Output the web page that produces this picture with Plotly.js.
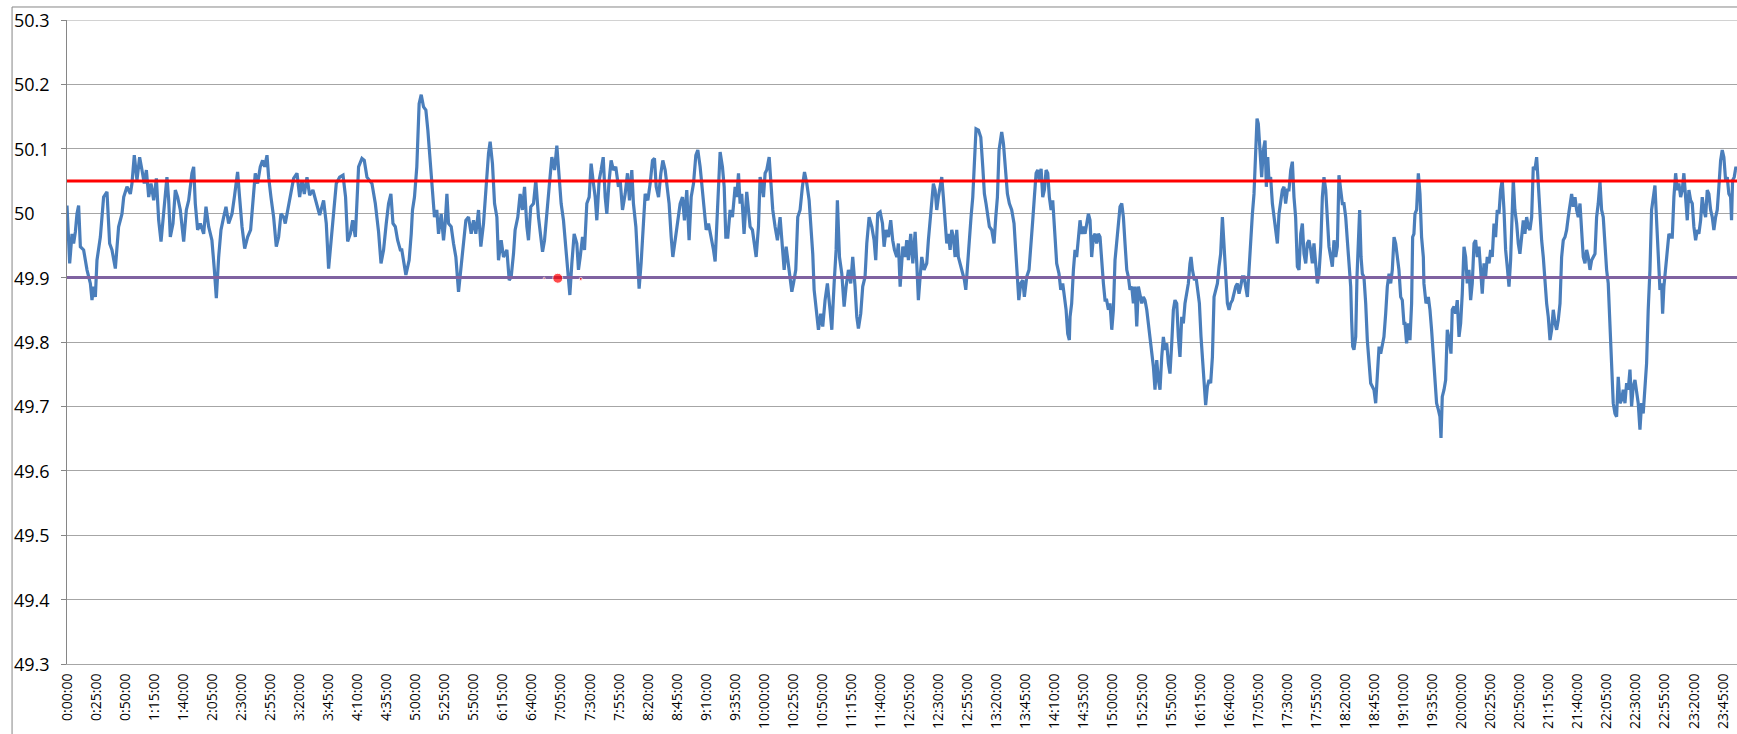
<!DOCTYPE html>
<html>
<head>
<meta charset="utf-8">
<script src="https://cdn.plot.ly/plotly-3.0.1.min.js"></script>
<style>
  html, body { margin: 0; padding: 0; background: #ffffff; }
  #chart { width: 1737px; height: 734px; }
</style>
</head>
<body>
<div id="chart"></div>
<script>
// Time of day, in minutes after midnight
const minutes = [
  0,2.3,4.3,5.7,7.2,8.6,10.0,11.5,14.3,17.2,
  20.1,21.5,22.9,24.4,25.8,28.7,31.5,34.4,36.7,38.7,
  41.6,44.4,47.3,48.8,51.6,54.5,55.9,57.9,60.2,62.5,
  64.5,66.5,68.3,70.3,72.3,74.6,76.9,78.9,80.9,83.2,
  86.0,87.5,88.9,91.2,93.2,95.2,97.5,100.4,102.7,104.7,
  107.5,109.0,110.4,112.4,114.7,117.6,119.6,121.9,124.7,126.8,
  128.5,130.5,132.5,134.8,136.8,139.1,142.0,144.0,146.8,148.5,
  150.6,152.9,155.4,158.0,160.0,162.0,164.0,166.3,168.3,170.1,
  172.1,173.5,175.5,177.8,180.1,182.1,184.1,186.4,187.8,189.8,
  192.1,195.0,197.9,200.2,202.2,204.2,206.5,208.8,211.6,214.5,
  217.4,220.8,223.1,225.1,227.1,229.4,231.7,234.6,237.5,239.7,
  241.5,243.8,245.8,248.1,250.9,253.8,255.8,258.1,260.4,262.4,
  265.3,268.1,270.2,272.4,274.7,276.7,278.7,280.5,282.5,284.5,
  286.8,
  288.1,291.6,294.4,296.2,297.3,299.0,301.0,303.0,304.8,306.8,
  308.8,310.5,312.5,314.5,316.2,318.2,319.7,322.0,324.0,325.4,
  326.9,328.3,330.6,332.6,334.6,336.9,339.2,341.2,343.2,345.5,
  347.8,349.8,351.8,354.1,356.1,358.4,360.4,362.7,364.1,366.1,
  367.9,369.9,371.3,373.6,375.6,378.5,380.5,382.2,384.2,385.6,
  387.9,389.9,391.9,393.7,395.7,397.1,399.1,401.4,403.4,405.7,
  407.7,409.2,410.9,412.9,414.9,417.2,419.5,421.5,423.5,425.2,
  427.2,429.2,431.0,432.7,434.4,436.4,438.7,440.1,441.6,443.6,
  445.3,447.3,449.3,451.0,453.0,454.5,455.9,457.9,459.6,461.4,
  463.1,464.5,466.5,468.2,470.2,472.2,474.5,476.0,478.0,480.3,
  482.3,484.0,486.0,487.4,489.5,491.2,492.3,494.0,496.1,497.5,
  499.8,501.8,503.8,505.5,507.0,509.0,511.0,512.7,514.7,516.7,
  518.1,519.9,521.3,523.3,525.6,527.6,529.6,531.3,533.3,535.3,
  537.1,539.1,541.1,542.8,544.8,546.2,548.2,550.0,552.0,554.3,
  556.3,557.7,559.1,560.6,562.0,564.0,565.5,566.9,568.6,570.6,
  572.6,
  574.9,576.3,577.8,579.2,580.6,582.6,584.9,586.4,587.8,589.8,
  591.2,593.0,595.0,596.4,597.8,599.3,600.7,602.1,604.2,605.6,
  607.3,609.3,611.3,613.6,615.1,617.1,618.8,620.8,622.2,623.7,
  625.1,627.1,628.8,630.8,632.8,634.6,636.6,638.6,640.3,641.7,
  642.9,644.6,646.6,648.6,650.3,652.3,654.3,656.6,658.1,660.1,
  661.8,662.9,664.7,666.7,668.7,670.4,672.4,674.4,676.1,678.1,
  679.6,681.0,683.0,684.7,686.7,688.2,690.2,692.5,694.5,695.9,
  697.6,699.7,701.7,703.1,704.8,706.8,708.8,710.5,712.0,714.0,
  715.4,716.9,719.2,721.2,722.6,724.0,726.0,727.8,729.8,731.2,
  732.6,734.1,735.5,737.5,739.8,741.2,742.7,744.1,745.5,747.0,
  748.4,749.8,751.3,752.7,754.1,755.6,757.0,758.4,759.9,761.3,
  762.7,764.2,765.6,767.0,768.5,770.5,772.2,773.4,774.8,776.2,
  777.9,779.4,780.8,782.2,784.3,786.3,788.0,789.4,790.8,792.3,
  793.7,795.7,797.7,799.2,800.6,802.0,804.3,805.8,807.2,809.2,
  810.9,812.9,814.9,816.7,817.8,819.0,820.7,822.4,823.8,825.8,
  827.8,829.6,831.0,832.4,833.9,835.3,836.7,838.2,839.6,841.0,
  842.5,843.9,845.3,846.8,848.2,850.2,851.6,853.6,855.1,856.8,
  858.2,859.7,861.1,862.5,
  863.1,864.5,866.0,867.4,868.8,870.3,871.7,873.1,874.6,876.0,
  877.4,878.9,880.3,881.7,883.2,884.6,886.0,887.5,888.9,890.3,
  891.8,893.2,894.6,896.1,897.5,899.0,900.4,901.8,903.3,904.7,
  906.1,907.6,909.0,910.4,911.9,913.3,914.7,916.2,917.6,919.0,
  920.5,921.9,923.3,924.8,926.2,927.6,929.1,930.5,931.9,933.4,
  934.8,936.2,937.7,939.1,940.5,942.0,943.4,944.8,946.3,947.7,
  949.1,950.6,952.0,953.4,954.9,956.3,957.7,959.2,960.6,962.0,
  963.5,964.9,966.3,967.2,968.4,970.1,971.5,973.0,974.4,975.8,
  977.2,978.7,979.8,981.3,982.7,984.1,985.6,987.0,988.4,989.9,
  991.3,992.7,994.2,995.6,997.0,998.5,999.9,1001.3,1002.8,1004.2,
  1005.6,1007.1,1008.5,1009.9,1011.4,1012.8,1014.2,1015.7,1017.1,1018.5,
  1020.0,1021.4,1022.8,1024.0,1025.1,1026.6,1028.0,1029.4,1030.9,1032.0,
  1033.2,1034.3,1035.7,1037.2,1038.6,1040.0,1041.5,1042.9,1044.3,1045.8,
  1047.2,1048.6,1050.1,1051.5,1053.0,1054.4,1055.8,1057.2,1058.7,1060.1,
  1061.6,1063.0,1064.4,1065.9,1067.3,1068.7,1070.2,1071.6,1073.0,1074.5,
  1075.9,1077.3,1078.8,1080.2,1081.6,1083.1,1084.5,1085.9,1087.4,1088.8,
  1090.2,1091.7,1093.1,1094.5,1096.0,1097.4,1098.8,1100.3,1101.7,1103.1,
  1104.6,1105.4,1106.3,1107.4,1108.9,1110.0,1111.2,1112.3,1113.5,1114.6,
  1116.0,1117.5,1118.9,1120.3,1121.8,1123.2,1124.6,1126.1,1127.5,1129.0,
  1130.4,1131.8,1133.2,1134.7,1136.1,1137.6,1139.0,1140.4,1141.9,1143.3,
  1144.7,1146.1,1147.6,1149.0,1150.4,
  1151.3,1152.7,1154.2,1155.6,1157.0,1157.9,1159.0,1159.9,1161.3,1162.8,
  1164.2,1165.6,1167.1,1167.6,1169.4,1171.4,1172.8,1174.2,1175.7,1177.1,
  1178.5,1180.0,1181.4,1182.3,1183.4,1184.9,1186.3,1187.7,1189.4,1190.9,
  1192.0,1193.5,1194.9,1196.3,1197.8,1199.2,1200.6,1202.1,1203.5,1204.9,
  1206.4,1207.8,1209.2,1210.7,1212.1,1213.5,1215.0,1216.4,1217.8,1219.3,
  1220.7,1222.1,1223.6,1225.0,1226.4,1227.9,1229.3,1230.7,1232.2,1233.6,
  1235.0,1236.5,1237.9,1239.3,1240.8,1242.2,1243.1,1244.5,1245.9,1247.4,
  1248.8,1250.2,1251.7,1253.1,1254.5,1256.0,1257.4,1258.8,1260.3,1261.7,
  1263.1,1264.6,1266.0,1267.4,1268.9,1270.3,1271.7,1273.2,1274.6,1276.1,
  1277.5,1278.9,1280.4,1281.8,1283.2,1284.7,1286.1,1287.5,1289.0,1290.4,
  1291.8,1293.3,1294.7,1296.1,1297.6,1299.0,1300.4,1301.9,1303.3,1304.7,
  1306.2,1307.6,1309.0,1310.5,1311.9,1313.3,1314.8,1316.2,1317.6,1319.1,
  1320.5,1321.9,1323.4,1324.8,1326.2,1327.7,1329.1,1330.5,1332.0,1333.4,
  1334.8,1336.3,1337.7,1339.1,1340.6,1342.0,1343.4,1344.9,1346.3,1347.7,
  1349.2,1350.6,1352.0,1353.5,1354.9,1356.3,1357.8,1359.2,1360.6,1362.1,
  1363.5,1364.9,1366.4,1367.8,1369.3,1370.7,1372.1,1373.0,1374.1,1375.6,
  1377.0,1378.4,1379.9,1381.3,1382.7,1384.2,1385.6,1387.0,1388.5,1389.9,
  1391.3,1392.8,1394.2,1395.6,1397.1,1398.5,1399.9,1401.4,1402.8,1404.2,
  1405.7,1407.1,1408.5,1410.0,1411.4,1412.8,1414.3,1415.7,1417.1,1418.6,
  1420.0,1421.4,1422.9,1424.3,1425.7,1427.2,1428.6,1430.0,1431.5,1432.3,
  1433.2,1434.6,1436.1,1436.9
];

// Grid frequency, Hz
const frequency = [
  50.012,49.922,49.968,49.953,49.971,49.999,50.012,49.948,49.943,49.912,
  49.891,49.865,49.886,49.870,49.927,49.963,50.025,50.033,49.953,49.943,
  49.914,49.979,49.999,50.025,50.041,50.030,50.046,50.090,50.051,50.087,
  50.067,50.046,50.067,50.025,50.046,50.020,50.054,49.989,49.956,49.999,
  50.056,50.020,49.963,49.984,50.036,50.025,50.005,49.956,50.005,50.020,
  50.062,50.072,50.015,49.974,49.984,49.968,50.010,49.979,49.958,49.912,
  49.868,49.932,49.974,49.994,50.010,49.984,49.999,50.025,50.064,50.025,
  49.979,49.945,49.963,49.974,50.015,50.062,50.046,50.072,50.082,50.072,
  50.090,50.056,50.025,49.994,49.948,49.963,49.999,49.994,49.984,50.005,
  50.025,50.054,50.062,50.025,50.051,50.030,50.056,50.028,50.036,50.015,
  49.997,50.020,49.984,49.914,49.953,49.994,50.046,50.056,50.059,50.025,
  49.956,49.968,49.989,49.963,50.072,50.085,50.082,50.056,50.051,50.046,
  50.015,49.971,49.922,49.943,49.984,50.015,50.030,49.984,49.979,49.958,
  49.943,
  49.943,49.904,49.927,49.968,50.005,50.025,50.072,50.170,50.184,50.165,
  50.160,50.129,50.077,50.025,49.994,50.005,49.968,49.999,49.958,49.984,
  50.030,49.984,49.979,49.953,49.932,49.878,49.917,49.953,49.989,49.994,
  49.968,49.989,49.968,50.005,49.948,49.984,50.041,50.093,50.111,50.077,
  50.015,49.994,49.927,49.958,49.932,49.943,49.896,49.901,49.937,49.974,
  49.994,50.030,50.005,50.041,49.979,49.958,50.010,50.015,50.051,49.994,
  49.963,49.940,49.958,49.994,50.041,50.087,50.067,50.105,50.062,50.015,
  49.989,49.948,49.917,49.873,49.922,49.968,49.953,49.912,49.932,49.963,
  49.943,50.015,50.025,50.077,50.046,50.025,49.989,50.051,50.067,50.087,
  50.025,49.999,50.051,50.082,50.067,50.072,50.041,50.051,50.005,50.030,
  50.062,50.020,50.067,50.015,49.979,49.932,49.883,49.922,49.984,50.030,
  50.020,50.046,50.082,50.085,50.041,50.025,50.062,50.082,50.067,50.041,
  50.015,49.963,49.932,49.958,49.994,50.015,50.025,49.989,50.036,49.958,
  50.025,50.046,50.090,50.098,50.072,50.046,50.015,49.974,49.984,49.963,
  49.943,49.925,49.979,50.046,50.095,50.072,50.041,49.963,49.963,50.005,
  49.994,
  50.041,50.025,50.062,50.015,50.030,49.968,50.033,50.005,49.979,49.974,
  49.958,49.932,49.979,50.056,50.046,50.025,50.062,50.067,50.087,50.051,
  50.005,49.979,49.958,49.994,49.953,49.912,49.948,49.922,49.901,49.878,
  49.891,49.912,49.994,50.005,50.041,50.064,50.046,50.020,49.974,49.937,
  49.881,49.850,49.819,49.844,49.824,49.865,49.891,49.850,49.819,49.891,
  49.943,50.020,49.932,49.906,49.855,49.886,49.912,49.891,49.932,49.886,
  49.839,49.821,49.844,49.886,49.901,49.953,49.994,49.979,49.958,49.927,
  49.999,50.002,49.984,49.948,49.974,49.963,49.989,49.958,49.943,49.932,
  49.953,49.886,49.948,49.932,49.958,49.927,49.968,49.922,49.971,49.922,
  49.865,49.901,49.932,49.912,49.922,49.958,49.994,50.020,50.046,50.036,
  50.005,50.025,50.041,50.056,50.025,49.989,49.953,49.968,49.943,49.974,
  49.963,49.932,49.974,49.932,49.922,49.912,49.896,49.881,49.917,49.963,
  49.994,50.025,50.077,50.131,50.129,50.118,50.072,50.030,50.015,49.999,
  49.979,49.974,49.953,49.994,50.025,50.098,50.126,50.108,50.077,50.030,
  50.015,50.005,49.984,49.932,49.886,49.865,49.891,49.896,49.870,49.901,
  49.912,49.948,49.989,50.025,50.062,50.067,50.051,50.069,50.025,50.036,
  50.067,50.062,50.025,50.005,50.020,49.963,49.922,49.906,49.881,49.891,
  49.875,49.850,49.813,49.803,
  49.839,49.860,49.912,49.943,49.932,49.963,49.989,49.968,49.979,49.968,
  49.984,49.999,49.989,49.932,49.963,49.968,49.953,49.968,49.963,49.922,
  49.891,49.865,49.865,49.850,49.860,49.819,49.850,49.927,49.953,49.984,
  50.010,50.015,49.994,49.953,49.912,49.901,49.881,49.886,49.860,49.886,
  49.824,49.886,49.870,49.860,49.870,49.865,49.850,49.829,49.808,49.777,
  49.762,49.726,49.772,49.741,49.726,49.777,49.808,49.788,49.798,49.767,
  49.751,49.798,49.850,49.865,49.860,49.808,49.777,49.839,49.829,49.860,
  49.881,49.891,49.922,49.932,49.912,49.896,49.901,49.881,49.860,49.808,
  49.767,49.726,49.702,49.731,49.741,49.736,49.777,49.870,49.881,49.891,
  49.917,49.937,49.994,49.943,49.901,49.860,49.850,49.860,49.865,49.875,
  49.886,49.891,49.875,49.886,49.901,49.901,49.886,49.870,49.912,49.958,
  49.999,50.030,50.087,50.147,50.139,50.103,50.056,50.098,50.113,50.041,
  50.087,50.051,50.056,50.015,49.994,49.979,49.953,49.999,50.015,50.036,
  50.041,50.015,50.036,50.036,50.067,50.080,50.025,49.994,49.917,49.912,
  49.968,49.984,49.937,49.922,49.953,49.958,49.943,49.922,49.953,49.917,
  49.891,49.906,49.948,50.025,50.056,50.036,49.984,49.948,49.932,49.917,
  49.958,49.932,49.948,50.059,50.036,50.015,50.015,49.994,49.958,49.922,
  49.886,49.834,49.793,49.788,49.808,49.901,49.963,50.005,49.932,49.906,
  49.901,49.860,49.803,49.767,49.736,49.731,49.726,49.705,49.757,49.793,
  49.782,49.798,49.808,49.844,49.886,49.906,49.891,49.912,49.963,49.953,
  49.927,49.912,49.870,49.865,49.829,
  49.829,49.798,49.829,49.803,49.860,49.963,49.968,49.999,50.005,50.062,
  50.030,49.963,49.932,49.891,49.860,49.870,49.850,49.819,49.777,49.726,
  49.705,49.695,49.684,49.651,49.715,49.726,49.741,49.819,49.803,49.782,
  49.850,49.855,49.844,49.865,49.808,49.829,49.875,49.948,49.932,49.891,
  49.912,49.865,49.891,49.953,49.958,49.932,49.948,49.912,49.875,49.922,
  49.901,49.932,49.922,49.943,49.932,49.984,49.963,50.005,49.999,50.036,
  50.051,50.005,49.943,49.917,49.886,49.927,49.994,50.051,50.005,49.984,
  49.953,49.937,49.963,49.989,49.968,49.994,49.979,49.974,49.994,50.072,
  50.067,50.087,50.046,49.999,49.958,49.932,49.891,49.860,49.839,49.803,
  49.819,49.850,49.829,49.819,49.834,49.860,49.932,49.958,49.963,49.974,
  49.994,50.015,50.030,50.010,50.025,50.005,49.994,50.015,49.974,49.932,
  49.922,49.943,49.932,49.912,49.927,49.932,49.937,49.994,50.015,50.049,
  50.005,49.994,49.943,49.912,49.891,49.829,49.767,49.705,49.689,49.684,
  49.746,49.705,49.710,49.726,49.705,49.736,49.726,49.757,49.700,49.731,
  49.741,49.726,49.705,49.664,49.705,49.689,49.726,49.767,49.850,49.912,
  50.005,50.025,50.043,49.989,49.917,49.881,49.891,49.844,49.886,49.917,
  49.943,49.968,49.963,49.963,50.025,50.062,50.036,50.046,50.025,50.036,
  50.062,50.015,49.989,50.036,50.020,50.015,49.979,49.958,49.974,49.968,
  49.989,50.025,50.005,49.994,50.036,50.030,50.005,49.994,49.974,49.994,
  50.005,50.041,50.082,50.098,50.087,50.051,50.056,50.030,50.025,49.989,
  50.051,50.056,50.072,50.067
];

// Limit lines (Hz)
const upperLimit = 50.05;
const lowerLimit = 49.9;
const dayStart = 0;
const dayEnd = 1437;

// Separate red point series
const eventMinutes = [410.6, 422.3, 442.1];
const eventValues = [49.899, 49.899, 49.898];

// Axis labels
const xTickLabels = [
  "0:00:00","0:25:00","0:50:00","1:15:00","1:40:00","2:05:00","2:30:00","2:55:00",
  "3:20:00","3:45:00","4:10:00","4:35:00","5:00:00","5:25:00","5:50:00","6:15:00",
  "6:40:00","7:05:00","7:30:00","7:55:00","8:20:00","8:45:00","9:10:00","9:35:00",
  "10:00:00","10:25:00","10:50:00","11:15:00","11:40:00","12:05:00","12:30:00","12:55:00",
  "13:20:00","13:45:00","14:10:00","14:35:00","15:00:00","15:25:00","15:50:00","16:15:00",
  "16:40:00","17:05:00","17:30:00","17:55:00","18:20:00","18:45:00","19:10:00","19:35:00",
  "20:00:00","20:25:00","20:50:00","21:15:00","21:40:00","22:05:00","22:30:00","22:55:00",
  "23:20:00","23:45:00"
];
const yTickValues = [49.3, 49.4, 49.5, 49.6, 49.7, 49.8, 49.9, 50.0, 50.1, 50.2, 50.3];
const yTickLabels = ["49.3","49.4","49.5","49.6","49.7","49.8","49.9","50","50.1","50.2","50.3"];

if (minutes.length !== frequency.length) {
  throw new Error("length mismatch: " + minutes.length + " vs " + frequency.length);
}

const xTickValues = xTickLabels.map(function (s) {
  const p = s.split(":").map(Number);
  return p[0] * 60 + p[1] + p[2] / 60;
});

const FONT = "Open Sans, Liberation Sans, Arial, sans-serif";

const traces = [
  {
    x: minutes, y: frequency, type: "scatter", mode: "lines",
    line: { color: "#4A7EBB", width: 3.2 }, hoverinfo: "skip"
  },
  {
    x: [dayStart, dayEnd], y: [upperLimit, upperLimit], type: "scatter", mode: "lines",
    line: { color: "#FF0000", width: 3 }, hoverinfo: "skip"
  },
  {
    x: [dayStart, dayEnd], y: [lowerLimit, lowerLimit], type: "scatter", mode: "lines",
    line: { color: "#7F62A1", width: 3 }, hoverinfo: "skip"
  },
  {
    x: eventMinutes, y: eventValues, type: "scatter", mode: "markers",
    marker: { color: "#FF0000", size: [2, 10, 3] }, hoverinfo: "skip"
  }
];

const annotations = yTickValues.map(function (v, i) {
  return {
    x: -0.0329, xref: "paper", xanchor: "left",
    y: v, yref: "y", yanchor: "middle",
    text: yTickLabels[i], showarrow: false,
    font: { family: FONT, size: 18, color: "#000000" }
  };
});

const layout = {
  width: 1737, height: 734,
  margin: { l: 67, r: 0, t: 20, b: 70, pad: 0 },
  paper_bgcolor: "#ffffff", plot_bgcolor: "#ffffff",
  showlegend: false,
  xaxis: {
    range: [dayStart, dayEnd], tickvals: xTickValues, ticktext: xTickLabels,
    tickangle: -90, showgrid: false, zeroline: false,
    showline: true, linecolor: "#a6a6a6", linewidth: 1,
    ticks: "", ticklabelstandoff: 3,
    tickfont: { family: FONT, size: 14, color: "#000000" }
  },
  yaxis: {
    range: [49.3, 50.3], tickvals: yTickValues, ticktext: yTickLabels,
    showticklabels: false, ticks: "outside", ticklen: 5, tickcolor: "#868686",
    showgrid: true, gridcolor: "#a6a6a6", gridwidth: 1, zeroline: false,
    showline: true, linecolor: "#868686", linewidth: 1
  },
  annotations: annotations,
  shapes: [
    {
      type: "rect", xref: "paper", yref: "paper",
      x0: -0.0329, x1: 1.2, y0: -0.3, y1: 1.0202,
      line: { color: "#868686", width: 1 }, fillcolor: "rgba(0,0,0,0)", layer: "below"
    },
    {
      type: "line", xref: "paper", yref: "y", x0: 0, x1: 1, y0: 50.3, y1: 50.3,
      line: { color: "#a6a6a6", width: 1 }, layer: "below"
    }
  ]
};

Plotly.newPlot("chart", traces, layout, { staticPlot: true, displayModeBar: false });
</script>
</body>
</html>
